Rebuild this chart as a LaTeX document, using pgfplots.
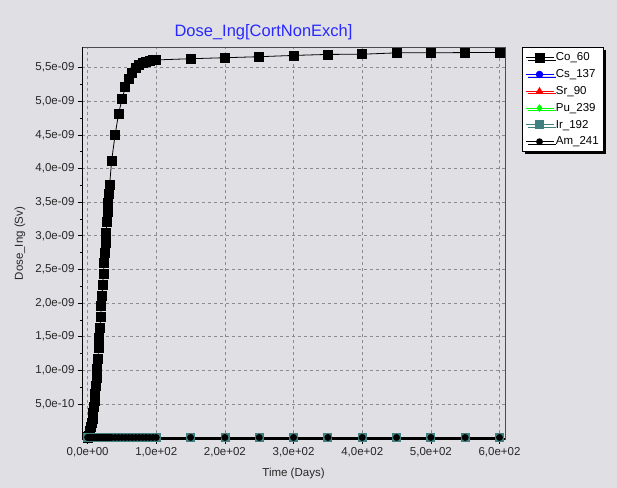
\documentclass[border=0pt]{standalone}
\usepackage{pgfplots}
\pgfplotsset{compat=1.18}
\usepackage{pgfplotstable}
\usepackage{fontspec}
\setmainfont{Liberation Sans}
\usetikzlibrary{shadows}
\definecolor{bg}{RGB}{224,224,228}
\definecolor{tealir}{RGB}{64,128,128}
\definecolor{titleblue}{RGB}{40,40,255}
\definecolor{gridgray}{RGB}{140,140,140}

\pgfplotstableread{
t    co        z
0    0.000e-9  0
1    0.010e-9  0
2    0.030e-9  0
3    0.060e-9  0
4    0.100e-9  0
5    0.150e-9  0
6    0.210e-9  0
7    0.280e-9  0
8    0.360e-9  0
9    0.450e-9  0
10   0.550e-9  0
11   0.650e-9  0
12   0.760e-9  0
13   0.880e-9  0
14   1.020e-9  0
15   1.170e-9  0
16   1.330e-9  0
17   1.480e-9  0
18   1.630e-9  0
19   1.790e-9  0
20   1.950e-9  0
21   2.110e-9  0
22   2.270e-9  0
23   2.430e-9  0
24   2.590e-9  0
25   2.750e-9  0
26   2.900e-9  0
27   3.050e-9  0
28   3.200e-9  0
29   3.350e-9  0
30   3.490e-9  0
31   3.620e-9  0
32   3.750e-9  0
35   4.120e-9  0
40   4.500e-9  0
45   4.810e-9  0
50   5.030e-9  0
55   5.210e-9  0
60   5.330e-9  0
65   5.420e-9  0
70   5.490e-9  0
75   5.540e-9  0
80   5.570e-9  0
85   5.590e-9  0
90   5.600e-9  0
95   5.610e-9  0
100  5.615e-9  0
150  5.633e-9  0
200  5.648e-9  0
250  5.663e-9  0
300  5.682e-9  0
350  5.697e-9  0
400  5.700e-9  0
450  5.720e-9  0
500  5.722e-9  0
550  5.724e-9  0
600  5.725e-9  0
}\dosedata

\begin{document}
\begin{tikzpicture}
\useasboundingbox (0bp,0bp) rectangle (617bp,488bp);
\fill[bg] (0bp,0bp) rectangle (617bp,488bp);
\node[titleblue, font=\fontsize{16.5bp}{19bp}\selectfont] at (263.5bp,456bp) {Dose\_Ing[CortNonExch]};
\begin{axis}[
  scale only axis, width=423bp, height=392bp,
  at={(82bp,48.5bp)}, anchor=south west,
  xmin=-8.2, xmax=608, ymin=-0.03e-9, ymax=5.8e-9,
  scaled x ticks=false, scaled y ticks=false,
  xtick={0,100,200,300,400,500,600},
  xticklabels={{0,0e+00},{1,0e+02},{2,0e+02},{3,0e+02},{4,0e+02},{5,0e+02},{6,0e+02}},
  ytick={0.5e-9,1e-9,1.5e-9,2e-9,2.5e-9,3e-9,3.5e-9,4e-9,4.5e-9,5e-9,5.5e-9},
  yticklabels={{5,0e-10},{1,0e-09},{1,5e-09},{2,0e-09},{2,5e-09},{3,0e-09},{3,5e-09},{4,0e-09},{4,5e-09},{5,0e-09},{5,5e-09}},
  minor x tick num=1, minor y tick num=1,
  xtick pos=bottom, ytick pos=left,
  tick align=outside,
  major tick length=4bp, minor tick length=2bp,
  tick style={black, line width=0.6bp},
  tick label style={font=\fontsize{11.5bp}{13bp}\selectfont, black!85},
  grid=major,
  major grid style={gridgray, line width=0.7bp, dash pattern=on 3bp off 3bp},
  axis background/.style={fill=bg},
  axis line style={black!70, line width=0.8bp},
  xlabel={Time (Days)},
  ylabel={Dose\_Ing (Sv)},
  label style={font=\fontsize{11.5bp}{13bp}\selectfont, black!85},
  xlabel style={at={(axis description cs:0.5,-0.0867)}, anchor=center},
  ylabel style={at={(axis description cs:-0.1466,0.5)}, anchor=center},
  legend style={at={(1,1)}, anchor=north west, xshift=16.7bp,
    draw=black, fill=white, line width=0.8bp,
    font=\fontsize{11.5bp}{13bp}\selectfont,
    row sep=3.3bp, inner xsep=3bp, inner ysep=3bp,
    cells={anchor=west},
    /tikz/every even column/.append style={column sep=3bp},
    drop shadow={shadow xshift=2.5bp, shadow yshift=-2.5bp, fill=black, opacity=1}},
  legend image code/.code={\draw[mark repeat=2,mark phase=2] plot coordinates {(0bp,0bp) (14bp,0bp) (28bp,0bp)};},
]
\addplot[black, line width=0.8bp, mark=square*, mark size=4.5bp, mark options={solid}] table[x=t,y=co] {\dosedata};
\addlegendentry{Co\_60}
\addplot[blue, line width=0.8bp, mark=*, mark size=3.3bp] table[x=t,y=z] {\dosedata};
\addlegendentry{Cs\_137}
\addplot[red, line width=0.8bp, mark=triangle*, mark size=3.6bp] table[x=t,y=z] {\dosedata};
\addlegendentry{Sr\_90}
\addplot[green, line width=0.8bp, mark=diamond*, mark size=3.3bp] table[x=t,y=z] {\dosedata};
\addlegendentry{Pu\_239}
\addplot[tealir, line width=0.8bp, mark=square*, mark size=4bp] table[x=t,y=z] {\dosedata};
\addlegendentry{Ir\_192}
\addplot[black, line width=0.8bp, mark=*, mark size=3bp] table[x=t,y=z] {\dosedata};
\addlegendentry{Am\_241}
\draw[black, line width=2bp] (rel axis cs:0,1) -- (rel axis cs:0,0) -- (rel axis cs:1,0);
\end{axis}
\end{tikzpicture}
\end{document}
